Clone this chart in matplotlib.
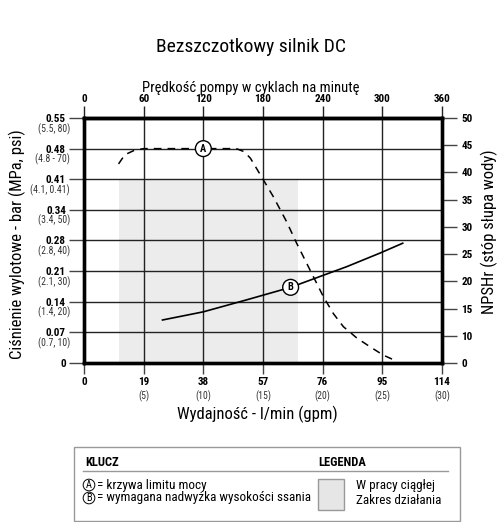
import numpy as np
import matplotlib
matplotlib.use("Agg")
import matplotlib.pyplot as plt
from matplotlib import font_manager
from matplotlib.patches import Rectangle
from matplotlib.lines import Line2D
import matplotlib.transforms as mtransforms

names = {f.name for f in font_manager.fontManager.ttflist}
wanted = ['Liberation Sans Narrow', 'DejaVu Sans Condensed', 'Roboto Condensed', 'Roboto', 'DejaVu Sans']
found = [n for n in wanted if n in names]
plt.rcParams['font.family'] = found[:1] + ['DejaVu Sans']

# axis ticks (left pressure axis is evenly spaced by label index)
left_vals = [0, 0.07, 0.14, 0.21, 0.28, 0.34, 0.41, 0.48, 0.55]
left_labels = ["0", "0.07", "0.14", "0.21", "0.28", "0.34", "0.41", "0.48", "0.55"]
left_sub = ["", "(0.7, 10)", "(1.4, 20)", "(2.1, 30)", "(2.8, 40)",
            "(3.4, 50)", "(4.1, 0.41)", "(4.8 - 70)", "(5.5, 80)"]
right_vals = [0, 10, 15, 20, 25, 30, 35, 40, 45, 50]
flow_ticks = [0, 19, 38, 57, 76, 95, 114]
flow_sub = ["", "(5)", "(10)", "(15)", "(20)", "(25)", "(30)"]
cpm_ticks = [0, 60, 120, 180, 240, 300, 360]

# curve A - power limit (bar)
a_flow = [11, 13, 16, 19, 30, 40, 48.5, 51, 53, 56.5, 60.3, 64.5, 67.7,
          72.5, 76.2, 79.4, 82.6, 86.9, 91.1, 95.3, 99.0]
a_press = [0.445, 0.466, 0.476, 0.48, 0.48, 0.48, 0.48, 0.473, 0.458, 0.416,
           0.37, 0.317, 0.274, 0.205, 0.152, 0.113, 0.083, 0.057, 0.037, 0.018, 0.006]

# curve B - NPSHr (ft of water)
b_flow = [25, 38, 51.8, 65.8, 75.2, 83.7, 94.3, 101.5]
b_npsh = [12.9, 14.4, 16.6, 18.9, 20.9, 22.7, 25.2, 27.0]

# continuous duty range
duty_flow = (11.1, 68.0)
duty_press = 0.41

W, H = 503, 522
fig = plt.figure(figsize=(W / 100, H / 100), dpi=100)
ax = fig.add_axes([84 / W, 1 - 363 / H, 358 / W, 245 / H])

left_pos = np.arange(len(left_vals))
right_pos = np.arange(len(right_vals))

ax.set_xlim(0, 114)
ax.set_ylim(0, 8)

# shaded region
ax.add_patch(Rectangle((duty_flow[0], 0), duty_flow[1] - duty_flow[0],
                       np.interp(duty_press, left_vals, left_pos),
                       facecolor="#ececec", edgecolor="none", zorder=0))

# grid
for y in left_pos[1:-1]:
    ax.axhline(y, color="#222222", lw=1.0, zorder=1)
for x in flow_ticks[1:-1]:
    ax.axvline(x, color="#222222", lw=1.0, zorder=1)

ya = np.interp(a_press, left_vals, left_pos)
ax.plot(a_flow, ya, color="black", lw=1.1, ls=(0, (5, 4)), zorder=3)

ax2 = ax.twinx()
ax2.set_ylim(0, 9)
yb = np.interp(b_npsh, right_vals, right_pos)
ax2.plot(b_flow, yb, color="black", lw=1.2, zorder=3)

# circled markers
ax.text(38, np.interp(0.48, left_vals, left_pos), "A", ha="center", va="center",
        fontsize=7.5, fontweight="bold", zorder=5,
        bbox=dict(boxstyle="circle,pad=0.28", fc="white", ec="black", lw=1.0))
ax2.text(65.8, np.interp(18.9, right_vals, right_pos), "B", ha="center", va="center",
         fontsize=7.5, fontweight="bold", zorder=5,
         bbox=dict(boxstyle="circle,pad=0.28", fc="white", ec="black", lw=1.0))

# ticks and labels
ax.set_yticks(left_pos)
ax.set_yticklabels(left_labels, fontsize=8, fontweight="bold")
ax.set_xticks(flow_ticks)
ax.set_xticklabels([str(t) for t in flow_ticks], fontsize=8, fontweight="bold")
ax.tick_params(axis="y", length=11, width=1.0, pad=2, color="#444444")
ax.tick_params(axis="x", length=8, width=1.0, pad=2, color="#444444")

ax2.set_yticks(right_pos)
ax2.set_yticklabels([str(v) for v in right_vals], fontsize=8, fontweight="bold")
ax2.tick_params(axis="y", length=11, width=1.0, pad=3, color="#444444")

top = ax.secondary_xaxis("top", functions=(lambda x: x * 360 / 114, lambda x: x * 114 / 360))
top.set_xticks(cpm_ticks)
top.set_xticklabels([str(t) for t in cpm_ticks], fontsize=8, fontweight="bold")
top.tick_params(axis="x", length=9, width=1.0, pad=1, color="#222222")

for a in (ax, ax2):
    for s in a.spines.values():
        s.set_linewidth(2.4)
        s.set_color("black")
top.spines["top"].set_linewidth(2.4)

# sub labels
ytr = mtransforms.blended_transform_factory(ax.transAxes, ax.transData)
down = mtransforms.ScaledTranslation(0, -5 / 100, fig.dpi_scale_trans)
for p, s in zip(left_pos, left_sub):
    if s:
        ax.text(-14 / 358, p, s, transform=ytr + down,
                ha="right", va="top", fontsize=7, color="#333333")
xtr = mtransforms.blended_transform_factory(ax.transData, ax.transAxes)
for x, s in zip(flow_ticks, flow_sub):
    if s:
        ax.text(x, -27 / 245, s, transform=xtr, ha="center", va="top",
                fontsize=7, color="#333333")

fig.text(251 / W, 1 - 47 / H, "Bezszczotkowy silnik DC", ha="center", va="center",
         fontsize=14)
fig.text(251 / W, 1 - 88 / H, "Prędkość pompy w cyklach na minutę", ha="center", va="center",
         fontsize=10.5)
fig.text(257 / W, 1 - 414 / H, "Wydajność - l/min (gpm)", ha="center", va="center",
         fontsize=12)
fig.text(17 / W, 1 - 244 / H, "Ciśnienie wylotowe - bar (MPa, psi)", ha="center", va="center",
         rotation=90, fontsize=12)
fig.text(489 / W, 1 - 232 / H, "NPSHr (stóp słupa wody)", ha="center", va="center",
         rotation=90, fontsize=12)

# key box
fig.patches.append(Rectangle((74 / W, 1 - 521 / H), 386 / W, 74 / H, transform=fig.transFigure,
                             fill=False, edgecolor="#999999", lw=1.0))
fig.lines.append(Line2D([83 / W, 448 / W], [1 - 471 / H, 1 - 471 / H], transform=fig.transFigure,
                        color="#999999", lw=1.0))
fig.text(85 / W, 1 - 462 / H, "KLUCZ", ha="left", va="center", fontsize=9, fontweight="bold")
fig.text(318 / W, 1 - 462 / H, "LEGENDA", ha="left", va="center", fontsize=9, fontweight="bold")
for yy, letter, txt in [(485, "A", "= krzywa limitu mocy"),
                        (498, "B", "= wymagana nadwyżka wysokości ssania")]:
    fig.text(89 / W, 1 - yy / H, letter, ha="center", va="center", fontsize=7.5,
             bbox=dict(boxstyle="circle,pad=0.08", fc="white", ec="black", lw=0.7))
    fig.text(97 / W, 1 - yy / H, txt, ha="left", va="center", fontsize=9.5)
fig.patches.append(Rectangle((318 / W, 1 - 510 / H), 26 / W, 31 / H, transform=fig.transFigure,
                             facecolor="#e6e6e6", edgecolor="#999999", lw=1.0))
fig.text(356 / W, 1 - 485 / H, "W pracy ciągłej", ha="left", va="center", fontsize=9.5)
fig.text(356 / W, 1 - 501 / H, "Zakres działania", ha="left", va="center", fontsize=9.5)

fig.savefig("out.png", dpi=100)
